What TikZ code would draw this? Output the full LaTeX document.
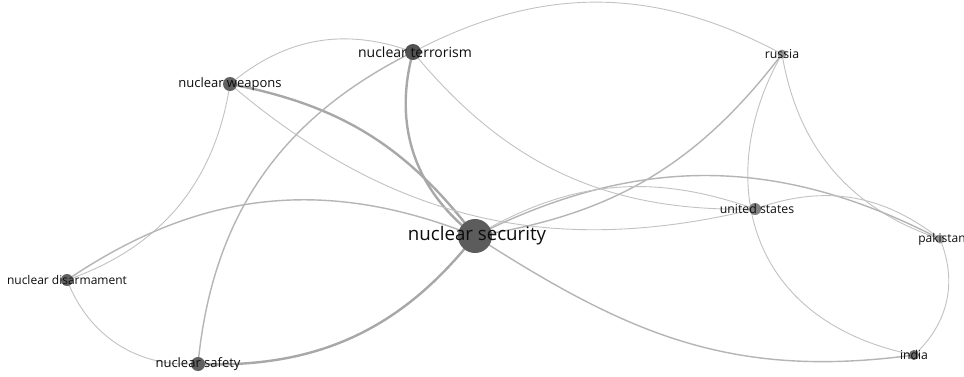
\documentclass[tikz,border=0pt]{standalone}
\usepackage{fontspec}
\setmainfont{Open Sans}
\begin{document}
\begin{tikzpicture}[x=1pt,y=1pt,
  edge/.style={draw=black!24, line width=0.9pt},
  edgemid/.style={draw=black!29, line width=1.4pt},
  edgethick/.style={draw=black!34, line width=2.4pt},
  bub/.style={circle, fill=black!62, inner sep=0pt},
  lab/.style={text=black!95, inner sep=0pt}]
\useasboundingbox[fill=white] (0,0) rectangle (964,-376);
% node centres
\coordinate (ns) at (475,-236);
\coordinate (nt) at (413,-52);
\coordinate (nw) at (230,-84);
\coordinate (ru) at (782,-54);
\coordinate (us) at (755,-209);
\coordinate (pk) at (940,-239);
\coordinate (in) at (914,-355);
\coordinate (nd) at (67,-280);
\coordinate (sa) at (198,-364);
% connectors
\draw[edge] (nw) to[bend left=30] (nt);
\draw[edge] (nt) to[bend left=28] (ru);
\draw[edgethick] (nt) to[bend right=34] (ns);
\draw[edgethick] (nw) to[bend left=21] (ns);
\draw[edge] (nw) to[bend right=27] (us);
\draw[edge] (nt) to[bend right=26] (us);
\draw[edgemid] (nt) to[bend right=29] (sa);
\draw[edge] (nw) to[bend left=31] (nd);
\draw[edgemid] (nd) to[bend left=28] (ns);
\draw[edge] (nd) to[bend right=36] (sa);
\draw[edgethick] (sa) to[bend right=27] (ns);
\draw[edgemid] (ns) .. controls (626,-333) and (730,-380) .. (in);
\draw[edge] (ru) .. controls (715,-170) and (740,-320) .. (in);
\draw[edge] (ru) to[bend right=31] (pk);
\draw[edgemid] (ru) to[bend left=22] (ns);
\draw[edgemid] (ns) to[bend left=27] (pk);
\draw[edge] (ns) to[bend left=25] (us);
\draw[edge] (us) to[bend left=29] (pk);
\draw[edge] (pk) to[bend left=35] (in);
% bubbles
\node[bub, minimum size=34pt, fill=black!64] (nsb) at (ns) {};
\node[bub, minimum size=16pt, fill=black!68] (ntb) at (nt) {};
\node[bub, minimum size=14pt] (nwb) at (nw) {};
\node[bub, minimum size=9pt, fill=black!40] (rub) at (ru) {};
\node[bub, minimum size=12pt, fill=black!50] (usb) at (us) {};
\node[bub, minimum size=9pt, fill=black!40] (pkb) at (pk) {};
\node[bub, minimum size=10pt, fill=black!58] (inb) at (in) {};
\node[bub, minimum size=12pt] (ndb) at (nd) {};
\node[bub, minimum size=14pt] (sab) at (sa) {};
% labels
\node[lab, font=\fontsize{18.7}{20}\selectfont] (nsl) at (477,-236) {nuclear security};
\node[lab, font=\fontsize{14}{16}\selectfont] (ntl) at (415,-52) {nuclear terrorism};
\node[lab, font=\fontsize{13}{15}\selectfont] (nwl) at (nw) {nuclear weapons};
\node[lab, font=\fontsize{12.3}{14}\selectfont] (rul) at (ru) {russia};
\node[lab, font=\fontsize{12.3}{14}\selectfont] (usl) at (757,-209) {united states};
\node[lab, font=\fontsize{12}{14}\selectfont] (pkl) at (942,-239) {pakistan};
\node[lab, font=\fontsize{12.2}{14}\selectfont] (inl) at (in) {india};
\node[lab, font=\fontsize{12}{14}\selectfont] (ndl) at (nd) {nuclear disarmament};
\node[lab, font=\fontsize{13}{15}\selectfont] (sal) at (sa) {nuclear safety};
\end{tikzpicture}
\end{document}
